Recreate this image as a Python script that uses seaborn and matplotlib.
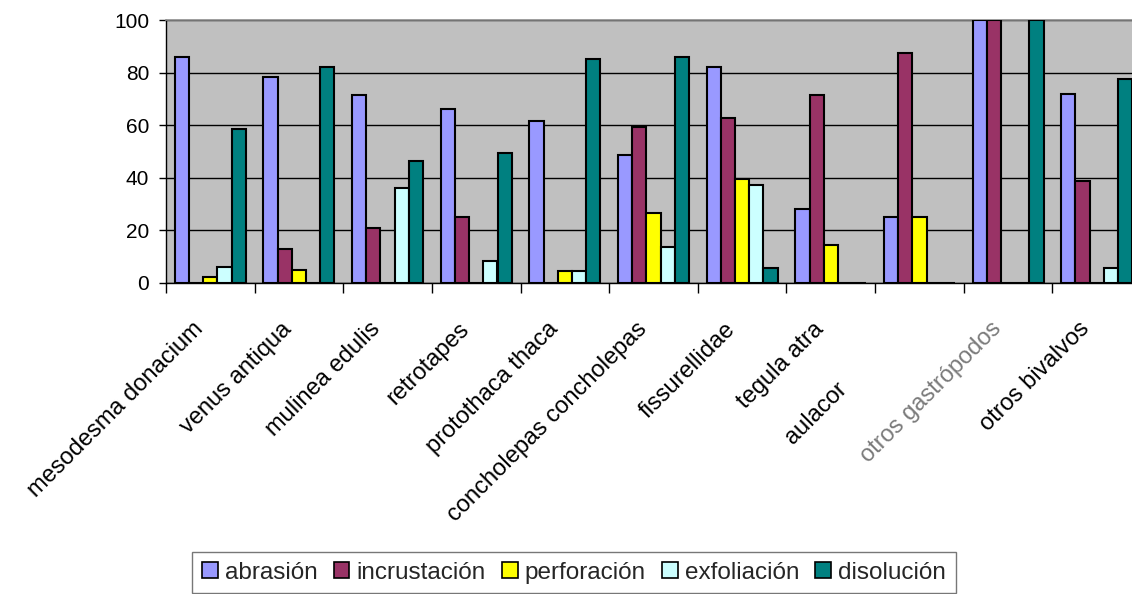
import matplotlib
matplotlib.use("Agg")
import matplotlib.pyplot as plt
import matplotlib.transforms as mtransforms
import numpy as np
import pandas as pd
import seaborn as sns
from matplotlib.patches import Patch

categories = ["mesodesma donacium", "venus antiqua", "mulinea edulis", "retrotapes",
              "protothaca thaca", "concholepas concholepas", "fissurellidae", "tegula atra",
              "aulacor", "otros gastrópodos", "otros bivalvos"]
series = ["abrasión", "incrustación", "perforación", "exfoliación", "disolución"]

abrasion     = [86, 78.5, 71.5, 66, 61.5, 48.7, 82, 28, 25, 100, 72]
incrustacion = [0, 13, 21, 25, 0, 59.3, 62.7, 71.5, 87.5, 100, 38.8]
perforacion  = [2.3, 5, 0, 0, 4.5, 26.6, 39.5, 14.5, 25, 0, 0]
exfoliacion  = [6, 0, 36, 8.5, 4.5, 13.7, 37.3, 0, 0, 0, 5.7]
disolucion   = [58.5, 82, 46.5, 49.5, 85, 86, 5.7, 0, 0, 100, 77.6]

colors = ["#9999FF", "#993366", "#FFFF00", "#CCFFFF", "#008080"]

df = pd.DataFrame({
    "categoria": np.tile(categories, len(series)),
    "tipo": np.repeat(series, len(categories)),
    "valor": abrasion + incrustacion + perforacion + exfoliacion + disolucion,
})

sns.set_theme(style="white")
plt.rcParams["font.family"] = ["Liberation Sans", "DejaVu Sans"]

DPI = 100
fig = plt.figure(figsize=(11.32, 5.94), dpi=DPI)
ax = fig.add_axes([166 / 1132, 1 - 283 / 594, (1141 - 166) / 1132, (283 - 20) / 594])
ax.set_facecolor("#C0C0C0")

sns.barplot(data=df, x="categoria", y="valor", hue="tipo", order=categories,
            hue_order=series, palette=colors, width=0.8, gap=0,
            edgecolor="black", linewidth=1.5, saturation=1, legend=False, ax=ax,
            zorder=3)

ax.set_ylim(0, 100)
ax.set_xlim(-0.5, len(categories) - 0.5)
ax.set_yticks(range(0, 101, 20))
ax.yaxis.grid(True, color="black", linewidth=1.0)
ax.set_axisbelow(True)
ax.set_xlabel("")
ax.set_ylabel("")

ax.spines["right"].set_visible(False)
ax.spines["top"].set_color("#8c8c8c")
ax.spines["top"].set_linewidth(1.2)
for s in ["left", "bottom"]:
    ax.spines[s].set_color("black")
    ax.spines[s].set_linewidth(1.0)

ax.tick_params(axis="y", which="major", length=5, width=1, color="black",
               labelsize=15, pad=7, left=True, labelcolor="black")

# category separators on the x axis; names are placed as rotated text below
ax.set_xticks(np.arange(len(categories) + 1) - 0.5)
ax.set_xticklabels([])
ax.tick_params(axis="x", which="major", length=7, width=1, color="black", bottom=True)

for i, name in enumerate(categories):
    if name == "aulacor":
        dx, dy = -84, -95
    else:
        dx, dy = -18, -35
    off = mtransforms.ScaledTranslation(dx / DPI, dy / DPI, fig.dpi_scale_trans)
    ax.text(i, 0, name, transform=ax.get_xaxis_transform() + off,
            rotation=45, rotation_mode="anchor", ha="right", va="top",
            fontsize=17, color="#7a7a7a" if name == "otros gastrópodos" else "black")

handles = [Patch(facecolor=c, edgecolor="black", linewidth=1.2, label=s)
           for c, s in zip(colors, series)]
leg = fig.legend(handles=handles, loc="upper center", bbox_to_anchor=(574 / 1132, 1 - 552 / 594),
                 ncol=5, fontsize=17.5, frameon=True, fancybox=False,
                 handlelength=0.65, handleheight=0.65, handletextpad=0.3,
                 columnspacing=0.65, borderpad=0.4, borderaxespad=0)
leg.get_frame().set_edgecolor("#555555")
leg.get_frame().set_linewidth(1.0)

fig.savefig("out.png", dpi=DPI)
